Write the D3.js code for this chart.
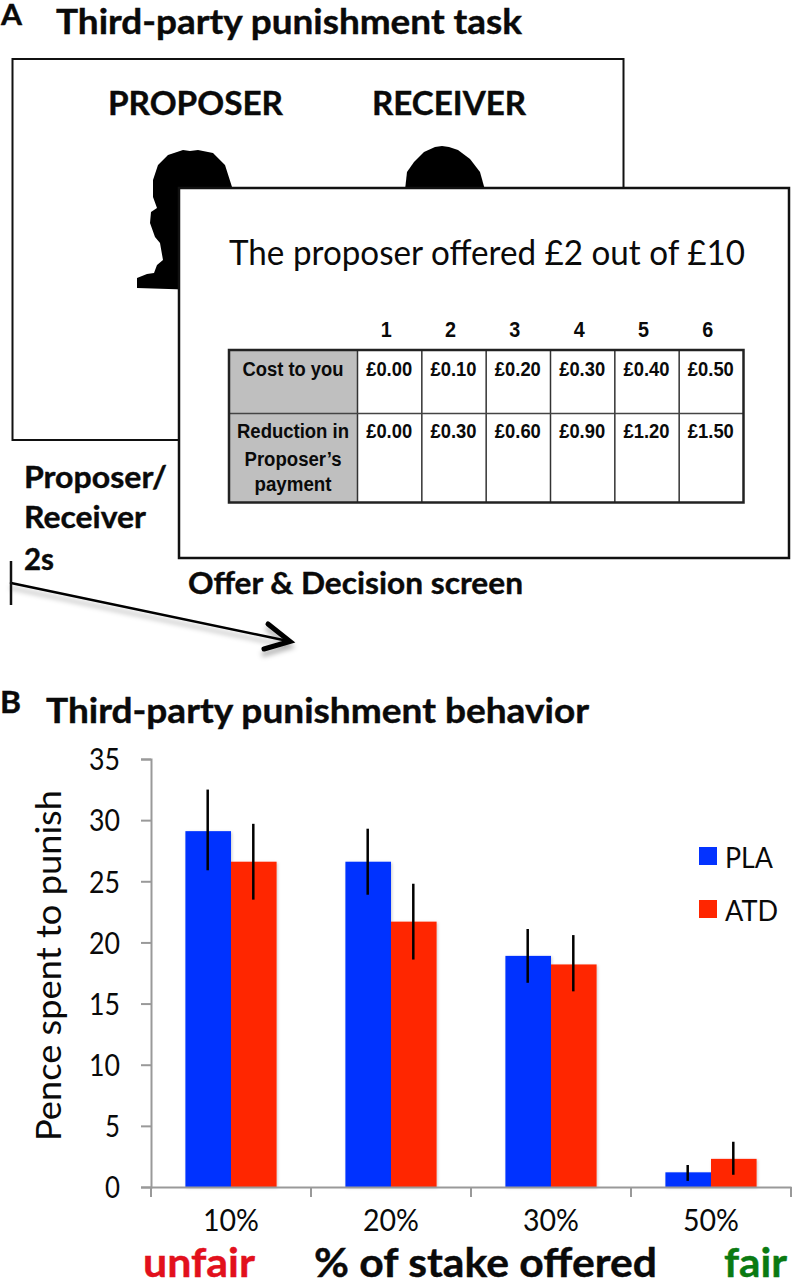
<!DOCTYPE html>
<html>
<head>
<meta charset="utf-8">
<script src="https://cdn.jsdelivr.net/npm/d3@7"></script>
<style>
  html, body { margin: 0; padding: 0; background: #fff; }
  svg { display: block; }
  text { font-family: Lato, "Open Sans", sans-serif; fill: #0a0a0a; }
  .tbl { font-family: "Liberation Sans", Arial, sans-serif; font-weight: bold; }
</style>
</head>
<body>
<svg width="793" height="1280"></svg>
<script>
// values
var offers = ["10%", "20%", "30%", "50%"];
var groups = ["PLA", "ATD"];
var plaMean = [29.1, 26.6, 18.9, 1.2];
var atdMean = [26.6, 21.7, 18.2, 2.3];
var plaLow = [25.9, 23.9, 16.7, 0.5];
var plaHigh = [32.5, 29.3, 21.1, 1.8];
var atdLow = [23.5, 18.6, 16.0, 1.0];
var atdHigh = [29.7, 24.8, 20.6, 3.7];
var yTicks = [0, 5, 10, 15, 20, 25, 30, 35];

// the table on the decision screen
var choices = ["1", "2", "3", "4", "5", "6"];
var costs = ["£0.00", "£0.10", "£0.20", "£0.30", "£0.40", "£0.50"];
var reductions = ["£0.00", "£0.30", "£0.60", "£0.90", "£1.20", "£1.50"];
var tableRows = ["cost", "reduction"];

var svg = d3.select("svg");

var defs = svg.append("defs");
defs.append("filter").attr("id", "shadow")
  .attr("x", "-10%").attr("y", "-10%").attr("width", "130%").attr("height", "130%")
  .append("feDropShadow")
    .attr("dx", 1).attr("dy", 1).attr("stdDeviation", 1.5)
    .attr("flood-color", "#000").attr("flood-opacity", 0.2);
defs.append("filter").attr("id", "arrowShadow")
  .attr("x", "-10%").attr("y", "-30%").attr("width", "130%").attr("height", "180%")
  .append("feDropShadow")
    .attr("dx", 0).attr("dy", 5).attr("stdDeviation", 2.5)
    .attr("flood-color", "#000").attr("flood-opacity", 0.3);

// Text helper, width is the width the string has in the picture.
function label(parent, x, y, str, size, weight, width, fill) {
  var t = parent.append("text")
    .attr("x", x)
    .attr("y", y)
    .attr("font-size", size)
    .attr("font-weight", weight)
    .text(str);
  if (width) t.attr("textLength", width).attr("lengthAdjust", "spacingAndGlyphs");
  if (fill) t.style("fill", fill);
  // Lato bold is a bit thinner than the font in the picture
  if (weight == "bold") t.attr("stroke", fill || "#0a0a0a").attr("stroke-width", 0.4);
  return t;
}

// Panel A
label(svg, 1, 24.5, "A", 28, "bold", 21);
label(svg, 56, 34, "Third-party punishment task", 34, "bold", 466);

svg.append("rect")
  .attr("x", 12.5).attr("y", 59).attr("width", 611).attr("height", 381)
  .attr("fill", "#fff").attr("stroke", "#111").attr("stroke-width", 2);

label(svg, 108, 115, "PROPOSER", 32, "bold", 175);
label(svg, 372, 115, "RECEIVER", 32, "bold", 154);

// silhouettes, the second screen covers most of them
var proposerHead = "M183,150 L190,151 L198,150 L213,153 L225,165 L232,187 L232,200 L200,290 L137,288 L137,278 L147,274 L154,273 L157,265 L163,260 L160,243 L155,237 L150,223 L151,212 L157,208 L153,197 L153,180 L158,165 L168,155 Z";
var receiverHead = "M435,147 L442,146 L449,147 L458,150 L470,159 L480,172 L485,190 L405,190 L407,172 L414,162 L424,152 Z";
svg.append("path").attr("d", proposerHead).attr("fill", "#000");
svg.append("path").attr("d", receiverHead).attr("fill", "#000");

svg.append("rect")
  .attr("x", 179).attr("y", 188).attr("width", 610).attr("height", 370)
  .attr("fill", "#fff").attr("stroke", "#111").attr("stroke-width", 2.5);

label(svg, 229, 265, "The proposer offered £2 out of £10", 35, "normal", 516);

// Table
var tableX = d3.scaleBand().domain(choices).range([357.5, 743.5]);
var tableY = d3.scaleOrdinal().domain(tableRows).range([350, 413.5]);
var table = svg.append("g");

table.append("rect")
  .attr("x", 229).attr("y", 350).attr("width", 128.5).attr("height", 152.5)
  .attr("fill", "#bfbfbf");

table.selectAll(".colLine")
  .data(choices.slice(1))
  .enter().append("line")
    .attr("class", "colLine")
    .attr("x1", function(d) { return tableX(d); })
    .attr("x2", function(d) { return tableX(d); })
    .attr("y1", 350).attr("y2", 502.5)
    .attr("stroke", "#333").attr("stroke-width", 1.5);

table.append("line")
  .attr("x1", 357.5).attr("x2", 357.5).attr("y1", 350).attr("y2", 502.5)
  .attr("stroke", "#333").attr("stroke-width", 1.5);
table.append("line")
  .attr("x1", 229).attr("x2", 743.5).attr("y1", 413.5).attr("y2", 413.5)
  .attr("stroke", "#444").attr("stroke-width", 1.5);
table.append("rect")
  .attr("x", 229).attr("y", 350).attr("width", 514.5).attr("height", 152.5)
  .attr("fill", "none").attr("stroke", "#222").attr("stroke-width", 2.5);

table.selectAll(".head")
  .data(choices)
  .enter().append("text")
    .attr("class", "tbl head")
    .attr("x", function(d) { return tableX(d) + tableX.bandwidth() / 2 - 3.5; })
    .attr("y", 337)
    .attr("text-anchor", "middle")
    .attr("font-size", 22)
    .attr("textLength", 11)
    .attr("lengthAdjust", "spacingAndGlyphs")
    .text(function(d) { return d; });

[costs, reductions].forEach(function(row, r) {
  table.selectAll(".row" + r)
    .data(row)
    .enter().append("text")
      .attr("class", "tbl row" + r)
      .attr("x", function(d, i) { return tableX(choices[i]) + tableX.bandwidth() / 2 - 0.5; })
      .attr("y", tableY(tableRows[r]) + (r == 0 ? 26 : 24.5))
      .attr("text-anchor", "middle")
      .attr("font-size", 20)
      .attr("textLength", 46)
      .attr("lengthAdjust", "spacingAndGlyphs")
      .text(function(d) { return d; });
});

var rowHeads = [
  {t: "Cost to you", y: 376, w: 101},
  {t: "Reduction in", y: 438, w: 112},
  {t: "Proposer’s", y: 466, w: 97},
  {t: "payment", y: 491, w: 77}
];
table.selectAll(".rowHead")
  .data(rowHeads)
  .enter().append("text")
    .attr("class", "tbl rowHead")
    .attr("x", 293)
    .attr("y", function(d) { return d.y; })
    .attr("text-anchor", "middle")
    .attr("font-size", 20)
    .attr("textLength", function(d) { return d.w; })
    .attr("lengthAdjust", "spacingAndGlyphs")
    .text(function(d) { return d.t; });

label(svg, 24, 488, "Proposer/", 31, "bold", 143);
label(svg, 24, 528, "Receiver", 31, "bold", 122);
label(svg, 24, 570, "2s", 31, "bold", 30);
label(svg, 188, 594, "Offer & Decision screen", 31, "bold", 335);

// Timeline arrow
var arrow = svg.append("g")
  .attr("stroke", "#000").attr("fill", "none").attr("stroke-linecap", "round")
  .attr("filter", "url(#arrowShadow)");
arrow.append("path").attr("d", "M11,583 L288,641").attr("stroke-width", 2.5);
arrow.append("path").attr("d", "M268,624 L290,641.5 L264,649").attr("stroke-width", 5);
svg.append("line").attr("x1", 11).attr("x2", 11).attr("y1", 561).attr("y2", 605)
  .attr("stroke", "#111").attr("stroke-width", 2.5);

// Panel B
label(svg, 0, 713, "B", 30, "bold", 21);
label(svg, 46, 723, "Third-party punishment behavior", 34, "bold", 543);

var margin = {left: 151, right: 791, top: 759, bottom: 1187};

var x0 = d3.scaleBand()
  .domain(offers)
  .range([margin.left, margin.right])
  .paddingInner(0.43)
  .paddingOuter(0.215);

var x1 = d3.scaleBand()
  .domain(groups)
  .range([0, x0.bandwidth()]);

var y = d3.scaleLinear()
  .domain([0, 35])
  .range([margin.bottom, margin.top]);

var colors = d3.scaleOrdinal()
  .domain(groups)
  .range(["#0433ff", "#ff2600"]);

var series = [
  {key: "PLA", mean: plaMean, low: plaLow, high: plaHigh},
  {key: "ATD", mean: atdMean, low: atdLow, high: atdHigh}
];

var chart = svg.append("g");

series.forEach(function(s) {
  chart.append("g")
    .attr("filter", "url(#shadow)")
    .selectAll("rect")
    .data(offers)
    .enter().append("rect")
      .attr("x", function(d) { return x0(d) + x1(s.key); })
      .attr("y", function(d, i) { return y(s.mean[i]); })
      .attr("width", x1.bandwidth())
      .attr("height", function(d, i) { return y(0) - y(s.mean[i]); })
      .attr("fill", colors(s.key));
});

// Axes
var yAxis = chart.append("g")
  .attr("transform", "translate(" + margin.left + ",0)")
  .call(d3.axisLeft(y).tickValues(yTicks).tickSize(10).tickPadding(21));
yAxis.selectAll("text").attr("font-size", 30).attr("dy", "0.36em")
  .attr("textLength", function(d) { return d < 10 ? 15 : 31; })
  .attr("lengthAdjust", "spacingAndGlyphs")
  .style("font-family", "Lato, sans-serif");

var xAxis = chart.append("g")
  .attr("transform", "translate(0," + margin.bottom + ")")
  .call(d3.axisBottom(x0).tickSize(0).tickPadding(22.5));
xAxis.selectAll("text").attr("font-size", 30)
  .attr("textLength", 56).attr("lengthAdjust", "spacingAndGlyphs")
  .style("font-family", "Lato, sans-serif");
xAxis.selectAll(".edge")
  .data([offers[0]].concat(offers))
  .enter().append("line")
    .attr("class", "edge")
    .attr("x1", function(d, i) { return margin.left + i * x0.step(); })
    .attr("x2", function(d, i) { return margin.left + i * x0.step(); })
    .attr("y1", 0).attr("y2", 10);

chart.selectAll(".domain, .tick line, .edge")
  .attr("stroke", "#999").attr("stroke-width", 2);

// Error bars
series.forEach(function(s) {
  chart.append("g")
    .selectAll("line")
    .data(offers)
    .enter().append("line")
      .attr("x1", function(d) { return x0(d) + x1(s.key) + x1.bandwidth() / 2 - 0.5; })
      .attr("x2", function(d) { return x0(d) + x1(s.key) + x1.bandwidth() / 2 - 0.5; })
      .attr("y1", function(d, i) { return y(s.low[i]); })
      .attr("y2", function(d, i) { return y(s.high[i]); })
      .attr("stroke", "#000").attr("stroke-width", 2.5);
});

// Legend
var legendY = d3.scaleOrdinal().domain(groups).range([847, 900]);
var legend = svg.append("g").selectAll("g")
  .data(groups)
  .enter().append("g")
    .attr("transform", function(d) { return "translate(699," + legendY(d) + ")"; });
legend.append("rect")
  .attr("width", 18).attr("height", 18)
  .attr("fill", function(d) { return colors(d); });
legend.append("text")
  .attr("x", 26).attr("y", 21)
  .attr("font-size", 29)
  .attr("textLength", function(d) { return d == "PLA" ? 48 : 53; })
  .attr("lengthAdjust", "spacingAndGlyphs")
  .text(function(d) { return d; });

// Axis titles
svg.append("text")
  .attr("transform", "translate(61,1141) rotate(-90)")
  .attr("font-size", 35)
  .attr("textLength", 351)
  .attr("lengthAdjust", "spacingAndGlyphs")
  .text("Pence spent to punish");

label(svg, 143, 1277, "unfair", 41, "bold", 112, "#e2101c");
label(svg, 314, 1277, "% of stake offered", 41, "bold", 343);
label(svg, 724, 1277, "fair", 41, "bold", 63, "#0a7a12");
</script>
</body>
</html>
